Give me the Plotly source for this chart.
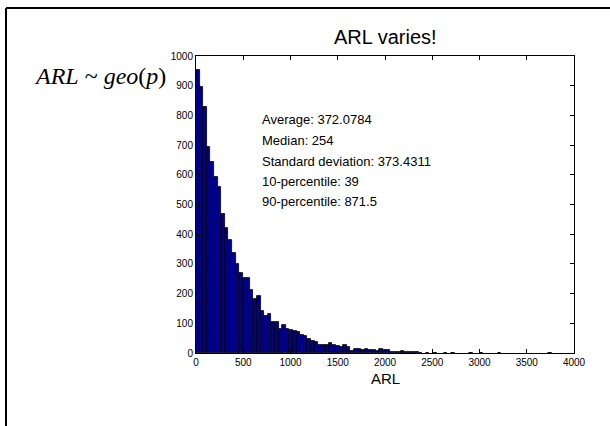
import plotly.graph_objects as go

# ---- data ----
bin_start = 0
bin_width = 38
counts = [954, 897, 828, 694, 644, 593, 560, 469, 421, 382,
          338, 301, 268, 254, 254, 212, 181, 191, 142, 123,
          131, 105, 105, 80, 93, 80, 76, 73, 70, 62,
          56, 46, 40, 36, 28, 28, 28, 33, 26, 23,
          21, 28, 20, 8, 13, 15, 11, 13, 10, 11,
          8, 12, 10, 9, 3, 4, 5, 6, 5, 4,
          3, 2, 1, 0, 1, 0, 1, 0, 0, 1,
          0, 1, 0, 0, 0, 0, 1, 0, 0, 1,
          0, 0, 0, 0, 1, 0, 0, 0, 0, 0,
          0, 0, 0, 0, 0, 0, 0, 0, 1, 0]
bin_centers = [bin_start + bin_width * (i + 0.5) for i in range(len(counts))]
# empty bins draw nothing (as in the reference)
bar_heights = [c if c > 0 else None for c in counts]

x_ticks = [0, 500, 1000, 1500, 2000, 2500, 3000, 3500, 4000]
y_ticks = [0, 100, 200, 300, 400, 500, 600, 700, 800, 900, 1000]
stats_lines = ["Average: 372.0784", "Median: 254", "Standard deviation: 373.4311",
               "10-percentile: 39", "90-percentile: 871.5"]
title_text = "ARL varies!"
x_label = "ARL"

W, H = 610, 426
L, R, T, B = 196, 574, 56, 353


def px(xp):
    return (xp - L) / (R - L)


def py(yp):
    return (B - yp) / (B - T)


fig = go.Figure()
fig.add_trace(go.Bar(
    x=bin_centers, y=bar_heights, width=bin_width,
    marker=dict(color="#000090", line=dict(color="black", width=0.8)),
    showlegend=False,
))

axis_common = dict(showline=True, linecolor="black", linewidth=1, mirror="ticks",
                   ticks="inside", ticklen=4, tickcolor="black", showgrid=False,
                   zeroline=False, tickfont=dict(family="Liberation Sans", size=10, color="black"))

fig.update_layout(
    width=W, height=H,
    margin=dict(l=L, r=W - R, t=T, b=H - B, pad=0),
    paper_bgcolor="white", plot_bgcolor="white",
    bargap=0,
    xaxis=dict(range=[0, 4000], tickvals=x_ticks, **axis_common),
    yaxis=dict(range=[0, 1000], tickvals=y_ticks, **axis_common),
)

annotations = []
annotations.append(dict(text=title_text, xref="paper", yref="paper", x=0.5, y=py(37),
                        xanchor="center", yanchor="middle", showarrow=False,
                        font=dict(family="Liberation Sans", size=20, color="black")))
annotations.append(dict(text=x_label, xref="paper", yref="paper", x=0.5, y=py(378),
                        xanchor="center", yanchor="middle", showarrow=False,
                        font=dict(family="Liberation Sans", size=15, color="black")))
stat_y = [119, 140, 161, 181, 201]
for s, yy in zip(stats_lines, stat_y):
    annotations.append(dict(text=s, xref="paper", yref="paper", x=px(260), y=py(yy),
                            xanchor="left", yanchor="middle", showarrow=False,
                            font=dict(family="Liberation Sans", size=13, color="black")))
annotations.append(dict(text="<i>ARL</i> ~ <i>geo</i>(<i>p</i>)", xref="paper", yref="paper",
                        x=px(100), y=py(76), xanchor="center", yanchor="middle", showarrow=False,
                        font=dict(family="Liberation Serif", size=24, color="black")))
fig.update_layout(annotations=annotations)

# outer frame (left and top edges visible)
fig.add_shape(type="line", xref="paper", yref="paper", x0=px(6), x1=px(6), y0=py(8), y1=py(440),
              line=dict(color="black", width=2))
fig.add_shape(type="line", xref="paper", yref="paper", x0=px(6), x1=px(640), y0=py(8), y1=py(8),
              line=dict(color="black", width=2))

fig.write_html("out.html")
